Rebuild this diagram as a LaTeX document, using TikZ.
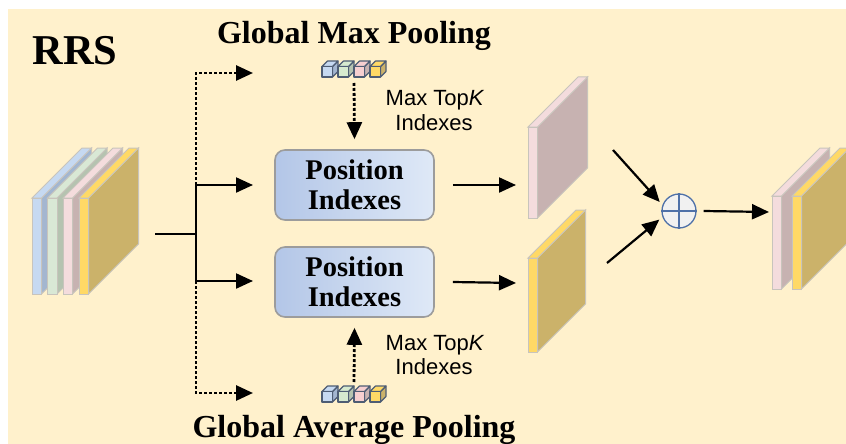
\documentclass[tikz,border=0pt]{standalone}
\usepackage{fontspec}
\setmainfont{Liberation Serif}
\newfontfamily\comicf{Liberation Sans}
\usetikzlibrary{arrows.meta}
\definecolor{bgc}{HTML}{FFF1CC}
\definecolor{slabedge}{HTML}{C8C4BC}
\definecolor{bluef}{HTML}{C6D9F1}\definecolor{blues}{HTML}{A3B6D0}
\definecolor{greenf}{HTML}{D9E8D5}\definecolor{greens}{HTML}{B5C3B0}
\definecolor{pinkf}{HTML}{F4DCDD}\definecolor{pinks}{HTML}{C7B2B1}
\definecolor{yellf}{HTML}{FFD966}\definecolor{yells}{HTML}{CBB26A}
\definecolor{cpinkf}{HTML}{F6CFD0}\definecolor{cgreenf}{HTML}{D6EACF}
\definecolor{cubeedge}{HTML}{4E5D74}
\definecolor{boxl}{HTML}{B3C6E7}\definecolor{boxr}{HTML}{DFE9F7}
\definecolor{boxedge}{HTML}{9C9C9C}
\definecolor{plusblue}{HTML}{4F71A8}\definecolor{plusfill}{HTML}{F1F1F1}
\newcommand{\myslab}[6]{%
  \filldraw[slabline, fill=#6] (#1+9.5,#2) -- (#1+9.5+#4,#2-#4) -- (#1+9.5+#4,#2-#3-#4) -- (#1+9.5,#2-#3) -- cycle;
  \filldraw[slabline, fill=#5] (#1,#2-#3) -- (#1+9.5,#2-#3) -- (#1+9.5+#4,#2-#3-#4) -- (#1+#4,#2-#3-#4) -- cycle;
  \filldraw[slabline, fill=#5] (#1,#2) rectangle (#1+9.5,#2-#3);
}
\newcommand{\mycube}[4]{%
  \filldraw[cubeline, fill=#4] (#1+10.5,#2) -- (#1+16,#2-5.5) -- (#1+16,#2-16) -- (#1+10.5,#2-10.5) -- cycle;
  \filldraw[cubeline, fill=#3] (#1,#2-10.5) -- (#1+10.5,#2-10.5) -- (#1+16,#2-16) -- (#1+5.5,#2-16) -- cycle;
  \filldraw[cubeline, fill=#3] (#1,#2) rectangle (#1+10.5,#2-10.5);
}
\newcommand{\cuberow}[2]{%
  \mycube{#1}{#2}{bluef}{blues}
  \mycube{#1+16}{#2}{cgreenf}{greens}
  \mycube{#1+32}{#2}{cpinkf}{pinks}
  \mycube{#1+48}{#2}{yellf}{yells}
}
\tikzset{
  slabline/.style={draw=slabedge, line width=1pt, line join=miter},
  cubeline/.style={draw=cubeedge, line width=1.1pt, line join=round},
  arr/.style={line width=2.2pt, -{Triangle[length=17pt,width=15pt]}},
  dotarr/.style={line width=2.8pt, dash pattern=on 2.8pt off 2.2pt, -{Triangle[length=17pt,width=15pt]}},
  posbox/.style={draw=boxedge, line width=1.6pt, rounded corners=10pt, left color=boxl, right color=boxr,
    minimum width=159pt, minimum height=70pt, inner sep=0pt, align=center,
    font=\fontsize{28.5}{30}\selectfont\bfseries},
  title/.style={font=\fontsize{32}{34}\selectfont\bfseries, anchor=base, inner sep=0pt},
  hand/.style={font=\comicf\fontsize{22}{24.5}\selectfont, align=center, anchor=base, inner sep=0pt},
}
\begin{document}
\begin{tikzpicture}[x=1pt,y=-1pt]
\useasboundingbox (0,0) rectangle (846,444);
\fill[bgc] (8,9) rectangle (846,444);
\begin{scope}
\clip (8,9) rectangle (846,444);
% input stack
\myslab{32}{294}{96}{50}{bluef}{blues}
\myslab{47.5}{294}{96}{50}{greenf}{greens}
\myslab{63}{294}{96}{50}{pinkf}{pinks}
\myslab{79}{294}{96}{50}{yellf}{yells}
% middle slabs
\myslab{528}{218}{91}{50}{pinkf}{pinks}
\myslab{528}{352}{94}{48}{yellf}{yells}
% output stack
\myslab{772}{289}{93}{48}{pinkf}{pinks}
\myslab{792}{289}{93}{48}{yellf}{yells}
\end{scope}
% titles
\node[title, font=\fontsize{42.5}{42}\selectfont\bfseries] (rrs) at (75,65) {RRS};
\node[title] (gmp) at (354,44) {Global Max Pooling};
\node[title] (gap) at (354,437) {Global Average Pooling};
% cubes
\cuberow{322}{77}
\cuberow{322}{402}
\coordinate (cubesA) at (354,83);
\coordinate (cubesB) at (354,382);
% boxes
\node[posbox] (box1) at (354.5,185) {Position\\Indexes};
\node[posbox] (box2) at (354.5,282) {Position\\Indexes};
% hand texts
\node[hand] (mt1) at (435,105) {Max Top\textit{K}};
\node[hand] (ix1) at (434,130) {Indexes};
\node[hand] (mt2) at (435,350) {Max Top\textit{K}};
\node[hand] (ix2) at (434,374) {Indexes};
% branch lines
\coordinate (in) at (155,234);
\coordinate (br) at (196,234);
\coordinate (brT) at (196,73);
\coordinate (brB) at (196,393);
\coordinate (b1) at (196,185);
\coordinate (b2) at (196,281);
\coordinate (t0) at (253,73);
\coordinate (t1) at (253,185);
\coordinate (t2) at (253,281);
\coordinate (t3) at (253,393);
\draw[dotarr] (196,185) -- (brT) -- (t0);
\draw[dotarr] (196,281) -- (brB) -- (t3);
\draw[line width=1.6pt] (in) -- (br);
\draw[line width=2.2pt] (b1) -- (b2);
\draw[arr] (b1) -- (t1);
\draw[arr] (b2) -- (t2);
% dotted arrows from cubes
\draw[dotarr] (cubesA) -- ([yshift=10pt]box1.north);
\draw[dotarr] (cubesB) -- ([yshift=-10pt]box2.south);
% box to slabs
\coordinate (m1) at (516,185);
\coordinate (m2) at (516,283);
\draw[arr] ([xshift=18pt]box1.east) -- (m1);
\draw[arr] ([xshift=18pt]box2.east) -- (m2);
% plus
\node[circle, draw=plusblue, fill=plusfill, line width=1.3pt, minimum size=34pt, inner sep=0pt] (plus) at (679,211) {};
\draw[plusblue, line width=1.3pt] (plus.north) -- (plus.south) (plus.west) -- (plus.east);
\coordinate (s1) at (613,150);
\coordinate (s2) at (607,263);
\draw[arr, shorten >=4pt] (s1) -- (plus.160);
\draw[arr, shorten >=4pt] (s2) -- (plus.200);
\coordinate (o1) at (769,212);
\draw[arr] ([xshift=7pt]plus.east) -- (o1);
\end{tikzpicture}
\end{document}
